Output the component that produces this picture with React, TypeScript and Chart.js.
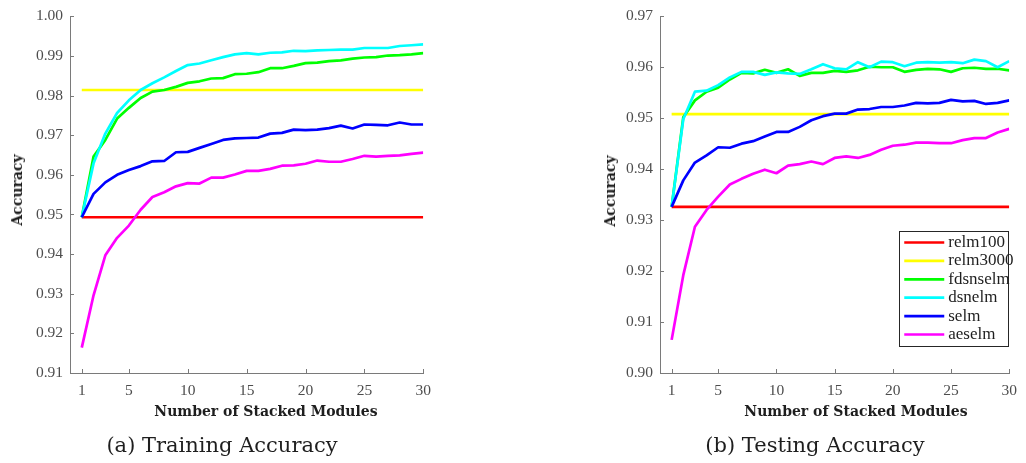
import React, { useEffect, useRef } from "react";
import { Chart, registerables } from "chart.js";

Chart.register(...registerables);

// ---------- data ----------
const modules = [1, 2, 3, 4, 5, 6, 7, 8, 9, 10, 11, 12, 13, 14, 15, 16, 17, 18, 19, 20, 21, 22, 23, 24, 25, 26, 27, 28, 29, 30];
const xTicks = [1, 5, 10, 15, 20, 25, 30];
const trainYTicks = [0.91, 0.92, 0.93, 0.94, 0.95, 0.96, 0.97, 0.98, 0.99, 1.0];
const testYTicks = [0.9, 0.91, 0.92, 0.93, 0.94, 0.95, 0.96, 0.97];

const seriesNames = ["relm100", "relm3000", "fdsnselm", "dsnelm", "selm", "aeselm"];
const seriesColors = ["#ff0000", "#ffff00", "#00ff00", "#00ffff", "#0000ff", "#ff00ff"];

// Training accuracy
const trainRelm100 = 0.9493;
const trainRelm3000 = 0.9814;
const trainFdsnselm = [0.9493, 0.9646, 0.9688, 0.9742, 0.9769, 0.9794, 0.981, 0.9814, 0.9822, 0.9832, 0.9836, 0.9843, 0.9844, 0.9854, 0.9855, 0.9859, 0.9869, 0.9869, 0.9875, 0.9882, 0.9883, 0.9887, 0.9889, 0.9893, 0.9896, 0.9897, 0.9901, 0.9902, 0.9904, 0.9907];
const trainDsnelm = [0.9493, 0.9629, 0.9704, 0.9756, 0.9788, 0.9814, 0.9831, 0.9846, 0.9862, 0.9877, 0.9881, 0.9889, 0.9897, 0.9904, 0.9907, 0.9904, 0.9908, 0.9909, 0.9913, 0.9912, 0.9914, 0.9915, 0.9916, 0.9916, 0.992, 0.992, 0.992, 0.9925, 0.9927, 0.9929];
const trainSelm = [0.9493, 0.9552, 0.9581, 0.96, 0.9612, 0.9622, 0.9634, 0.9635, 0.9657, 0.9658, 0.9668, 0.9678, 0.9688, 0.9692, 0.9693, 0.9694, 0.9704, 0.9706, 0.9714, 0.9713, 0.9714, 0.9718, 0.9724, 0.9717, 0.9727, 0.9726, 0.9725, 0.9732, 0.9727, 0.9727];
const trainAeselm = [0.9164, 0.9296, 0.9397, 0.9441, 0.9472, 0.9512, 0.9544, 0.9556, 0.9571, 0.9579, 0.9578, 0.9593, 0.9593, 0.9601, 0.961, 0.961, 0.9615, 0.9623, 0.9624, 0.9628, 0.9636, 0.9633, 0.9633, 0.964, 0.9648, 0.9646, 0.9648, 0.9649, 0.9653, 0.9656];

// Testing accuracy
const testRelm100 = 0.9326;
const testRelm3000 = 0.9508;
const testFdsnselm = [0.9326, 0.9502, 0.9535, 0.9552, 0.956, 0.9576, 0.9589, 0.9588, 0.9595, 0.9589, 0.9596, 0.9583, 0.9589, 0.9589, 0.9593, 0.9591, 0.9594, 0.9601, 0.96, 0.96, 0.9591, 0.9595, 0.9597, 0.9596, 0.9591, 0.9598, 0.9599, 0.9597, 0.9597, 0.9594];
const testDsnelm = [0.9326, 0.9498, 0.9552, 0.9554, 0.9565, 0.958, 0.9591, 0.9591, 0.9585, 0.959, 0.9588, 0.9587, 0.9596, 0.9606, 0.9598, 0.9596, 0.961, 0.96, 0.9611, 0.961, 0.9602, 0.9609, 0.961, 0.9609, 0.961, 0.9608, 0.9615, 0.9612, 0.96, 0.9612];
const testSelm = [0.9326, 0.9378, 0.9413, 0.9427, 0.9443, 0.9442, 0.945, 0.9455, 0.9464, 0.9473, 0.9473, 0.9483, 0.9496, 0.9504, 0.9509, 0.9509, 0.9517, 0.9518, 0.9522, 0.9522, 0.9525, 0.953, 0.9529, 0.953, 0.9536, 0.9533, 0.9534, 0.9528, 0.953, 0.9535];
const testAeselm = [0.9065, 0.9192, 0.9287, 0.932, 0.9346, 0.937, 0.9381, 0.9391, 0.9399, 0.9392, 0.9407, 0.941, 0.9415, 0.941, 0.9422, 0.9425, 0.9422, 0.9428, 0.9438, 0.9446, 0.9448, 0.9452, 0.9452, 0.9451, 0.9451, 0.9457, 0.9461, 0.9461, 0.9472, 0.9479];

// ---------- styling ----------
const SERIF = "'Liberation Serif', 'DejaVu Serif', serif";
const WIDE_SERIF = "'DejaVu Serif', 'Liberation Serif', serif";
const AXIS_COLOR = "#7a7a7a";
const TICK_TEXT = "#4d4d4d";
const TITLE_TEXT = "#1e1e1e";

function buildDatasets(constA: number, constB: number, series: number[][]) {
  const ends = [modules[0], modules[modules.length - 1]];
  const all = [
    ends.map((x) => ({ x, y: constA })),
    ends.map((x) => ({ x, y: constB })),
    ...series.map((s) => s.map((y, i) => ({ x: modules[i], y }))),
  ];
  return all.map((data, i) => ({
    label: seriesNames[i],
    data,
    borderColor: seriesColors[i],
    backgroundColor: seriesColors[i],
    borderWidth: 2.7,
    pointRadius: 0,
    tension: 0,
    fill: false,
    order: all.length - i,
    borderJoinStyle: "round" as const,
  }));
}

const inwardTicks = {
  id: "inwardTicks",
  afterDraw(chart: any) {
    const { ctx, chartArea } = chart;
    const xs = chart.scales.x;
    const ys = chart.scales.y;
    ctx.save();
    ctx.strokeStyle = AXIS_COLOR;
    ctx.lineWidth = 1;
    ctx.beginPath();
    xs.ticks.forEach((t: any) => {
      const px = Math.round(xs.getPixelForValue(t.value)) + 0.5;
      ctx.moveTo(px, chartArea.bottom);
      ctx.lineTo(px, chartArea.bottom - 4);
    });
    ys.ticks.forEach((t: any) => {
      const py = Math.round(ys.getPixelForValue(t.value)) + 0.5;
      ctx.moveTo(chartArea.left, py);
      ctx.lineTo(chartArea.left + 4, py);
    });
    ctx.stroke();
    ctx.restore();
  },
};

const boxLegend = {
  id: "boxLegend",
  afterDraw(chart: any, _args: any, opts: any) {
    if (!opts || !opts.show) return;
    const { ctx, chartArea } = chart;
    const boxW = 110;
    const rowH = 18.4;
    const boxH = 115;
    const right = chartArea.right;
    const bottom = chartArea.bottom - 27;
    const left = right - boxW;
    const top = bottom - boxH;
    ctx.save();
    ctx.fillStyle = "#ffffff";
    ctx.fillRect(left, top, boxW, boxH);
    ctx.strokeStyle = "#262626";
    ctx.lineWidth = 1;
    ctx.strokeRect(Math.round(left) + 0.5, Math.round(top) + 0.5, boxW - 1, boxH);
    ctx.font = `17px ${SERIF}`;
    ctx.textBaseline = "middle";
    ctx.textAlign = "left";
    chart.data.datasets.forEach((ds: any, i: number) => {
      const y = top + 11.5 + i * rowH;
      ctx.strokeStyle = ds.borderColor;
      ctx.lineWidth = 2.7;
      ctx.beginPath();
      ctx.moveTo(left + 5, y);
      ctx.lineTo(left + 45, y);
      ctx.stroke();
      ctx.fillStyle = TITLE_TEXT;
      ctx.fillText(ds.label, left + 49, y);
    });
    ctx.restore();
  },
};

type PanelProps = {
  width: number;
  height: number;
  left: number;
  yMin: number;
  yMax: number;
  yTicks: number[];
  constA: number;
  constB: number;
  series: number[][];
  legend: boolean;
};

function Panel(p: PanelProps) {
  const ref = useRef<HTMLCanvasElement | null>(null);
  useEffect(() => {
    if (!ref.current) return;
    const chart = new Chart(ref.current, {
      type: "line",
      data: { datasets: buildDatasets(p.constA, p.constB, p.series) as any },
      plugins: [inwardTicks, boxLegend],
      options: {
        animation: false,
        responsive: false,
        maintainAspectRatio: false,
        layout: { padding: { left: 0, right: p.width - 356 - 70, top: 15, bottom: 0 } },
        plugins: {
          legend: { display: false },
          tooltip: { enabled: false },
          boxLegend: { show: p.legend },
        } as any,
        scales: {
          x: {
            type: "linear",
            min: 0,
            max: 30,
            afterBuildTicks: (s: any) => {
              s.ticks = xTicks.map((v) => ({ value: v }));
            },
            afterFit: (s: any) => {
              s.height = 90;
            },
            grid: { display: false, drawTicks: false },
            border: { display: true, color: AXIS_COLOR, width: 1 },
            ticks: {
              padding: 9,
              color: TICK_TEXT,
              font: { family: SERIF, size: 15.5 },
              maxRotation: 0,
              autoSkip: false,
              callback: (v: any) => String(v),
            },
          },
          y: {
            type: "linear",
            min: p.yMin,
            max: p.yMax,
            afterBuildTicks: (s: any) => {
              s.ticks = p.yTicks.map((v) => ({ value: v }));
            },
            afterFit: (s: any) => {
              s.width = 70;
            },
            grid: { display: false, drawTicks: false },
            border: { display: true, color: AXIS_COLOR, width: 1 },
            ticks: {
              padding: 7,
              color: TICK_TEXT,
              font: { family: SERIF, size: 15.5 },
              autoSkip: false,
              callback: (v: any) => Number(v).toFixed(2),
            },
          },
        },
      },
    });
    return () => chart.destroy();
  }, []);
  return (
    <canvas
      ref={ref}
      width={p.width}
      height={p.height}
      style={{ position: "absolute", left: p.left, top: 0, width: p.width, height: p.height }}
    />
  );
}

const textBase: React.CSSProperties = {
  position: "absolute",
  color: TITLE_TEXT,
  whiteSpace: "nowrap",
  lineHeight: 1,
};

function Label(props: { text: string; cx: number; cy: number; size: number; bold?: boolean; rotate?: boolean; family?: string }) {
  return (
    <div
      style={{
        ...textBase,
        left: props.cx,
        top: props.cy,
        fontFamily: props.family || WIDE_SERIF,
        fontSize: props.size,
        fontWeight: props.bold ? 700 : 400,
        transform: `translate(-50%, -50%)${props.rotate ? " rotate(-90deg)" : ""}`,
      }}
    >
      {props.text}
    </div>
  );
}

export default function App() {
  useEffect(() => {
    document.body.style.margin = "0";
  }, []);
  return (
    <div style={{ position: "relative", width: 1026, height: 463, background: "#ffffff", overflow: "hidden" }}>
      <Panel
        width={440}
        height={463}
        left={0}
        yMin={0.91}
        yMax={1.0}
        yTicks={trainYTicks}
        constA={trainRelm100}
        constB={trainRelm3000}
        series={[trainFdsnselm, trainDsnelm, trainSelm, trainAeselm]}
        legend={false}
      />
      <Panel
        width={436}
        height={463}
        left={590}
        yMin={0.9}
        yMax={0.97}
        yTicks={testYTicks}
        constA={testRelm100}
        constB={testRelm3000}
        series={[testFdsnselm, testDsnelm, testSelm, testAeselm]}
        legend={true}
      />
      <Label text="Accuracy" cx={17} cy={190} size={14} bold rotate />
      <Label text="Accuracy" cx={610} cy={191} size={14} bold rotate />
      <Label text="Number of Stacked Modules" cx={266} cy={411} size={14} bold />
      <Label text="Number of Stacked Modules" cx={856} cy={411} size={14} bold />
      <Label text="(a) Training Accuracy" cx={222} cy={445} size={21} />
      <Label text="(b) Testing Accuracy" cx={815} cy={445} size={21} />
    </div>
  );
}
